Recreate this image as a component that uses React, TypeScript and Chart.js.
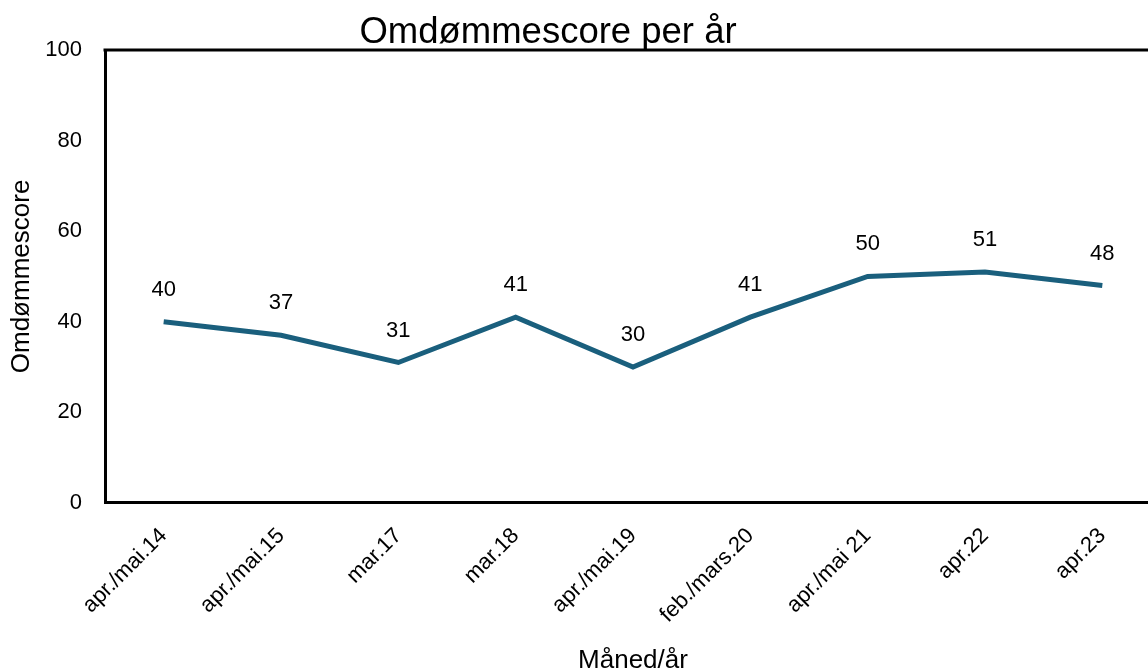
import React, { useEffect, useRef } from "react";
import { Chart, registerables } from "chart.js";

Chart.register(...registerables);

const categories = [
  "apr./mai.14",
  "apr./mai.15",
  "mar.17",
  "mar.18",
  "apr./mai.19",
  "feb./mars.20",
  "apr./mai 21",
  "apr.22",
  "apr.23",
];
const scores = [40, 37, 31, 41, 30, 41, 50, 51, 48];
const yTicks = [0, 20, 40, 60, 80, 100];

const FONT = "'Liberation Sans', Arial, sans-serif";
const LINE_COLOR = "#1a5f7d";

const labelPlugin = {
  id: "valueLabels",
  afterDatasetsDraw(chart: any) {
    const ctx = chart.ctx;
    const meta = chart.getDatasetMeta(0);
    ctx.save();
    ctx.font = `22px ${FONT}`;
    ctx.fillStyle = "#000";
    ctx.textAlign = "center";
    ctx.textBaseline = "middle";
    meta.data.forEach((pt: any, i: number) => {
      ctx.fillText(String(scores[i]), pt.x, pt.y - 32);
    });
    ctx.restore();
  },
};

const topBorderPlugin = {
  id: "topBorder",
  afterDraw(chart: any) {
    const { ctx, chartArea } = chart;
    ctx.save();
    ctx.strokeStyle = "#000";
    ctx.lineWidth = 3;
    ctx.beginPath();
    ctx.moveTo(chartArea.left - 1.5, chartArea.top);
    ctx.lineTo(chartArea.right + 20, chartArea.top);
    ctx.stroke();
    ctx.restore();
  },
};

export default function App() {
  const ref = useRef<HTMLCanvasElement | null>(null);
  useEffect(() => {
    document.body.style.margin = "0";
    document.body.style.overflow = "hidden";
    const chart = new Chart(ref.current!, {
      type: "line",
      data: {
        labels: categories,
        datasets: [
          {
            data: scores,
            borderColor: LINE_COLOR,
            backgroundColor: LINE_COLOR,
            borderWidth: 5,
            pointRadius: 0,
            tension: 0,
          },
        ],
      },
      options: {
        animation: false,
        responsive: false,
        maintainAspectRatio: false,
        layout: { padding: { top: 50, left: 4, right: 14, bottom: -6 } },
        plugins: {
          legend: { display: false },
          tooltip: { enabled: false },
          title: { display: false },
        },
        scales: {
          x: {
            offset: true,
            afterFit(scale: any) {
              scale.paddingLeft = 0;
              scale.paddingRight = 0;
            },
            grid: { display: false, drawTicks: false },
            border: { display: true, color: "#000", width: 3 },
            ticks: {
              color: "#000",
              font: { family: FONT, size: 22 },
              maxRotation: 45,
              minRotation: 45,
              padding: 20,
              autoSkip: false,
            },
            title: {
              display: true,
              text: "Måned/år",
              color: "#000",
              font: { family: FONT, size: 26, lineHeight: 1.0 },
              padding: { top: 0, bottom: 0 },
            },
          },
          y: {
            min: 0,
            max: 100,
            afterBuildTicks(axis: any) {
              axis.ticks = yTicks.map((v) => ({ value: v }));
            },
            afterFit(scale: any) {
              scale.width = 101;
            },
            grid: { display: false, drawTicks: false },
            border: { display: true, color: "#000", width: 3 },
            ticks: {
              color: "#000",
              font: { family: FONT, size: 22 },
              padding: 23,
            },
            title: {
              display: true,
              text: "Omdømmescore",
              color: "#000",
              font: { family: FONT, size: 26 },
              padding: { top: 2, bottom: 6 },
            },
          },
        },
      },
      plugins: [labelPlugin, topBorderPlugin],
    });
    return () => chart.destroy();
  }, []);
  return (
    <div style={{ position: "fixed", left: 0, top: 0, width: 1175, height: 668 }}>
      <div
        style={{
          position: "absolute",
          left: 0,
          width: 1096,
          top: 9,
          textAlign: "center",
          fontFamily: FONT,
          fontSize: 36.5,
          color: "#000",
          lineHeight: "44px",
        }}
      >
        Omdømmescore per år
      </div>
      <canvas ref={ref} width={1175} height={668} style={{ display: "block" }} />
    </div>
  );
}
